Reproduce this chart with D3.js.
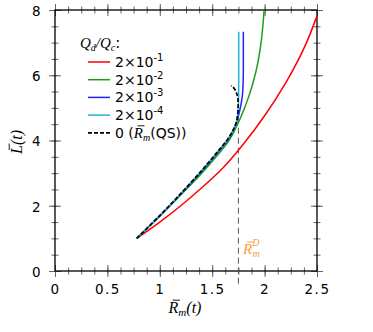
<!DOCTYPE html>
<html>
<head>
<meta charset="utf-8">
<script src="https://cdn.jsdelivr.net/npm/d3@7"></script>
<style>
	body { margin: 0; background: #fff; }
	svg { display: block; }
	.tick text { font-family: "DejaVu Sans", sans-serif; font-size: 13.5px; letter-spacing: 1.5px; fill: #000; }
	.math { font-family: "Liberation Serif", serif; font-style: italic; }
	.num { font-family: "DejaVu Sans", sans-serif; font-style: normal; }
</style>
</head>
<body>
<svg id="chart" width="373" height="332"></svg>
<script>
// axis ticks
const xTicks = [0, 0.5, 1, 1.5, 2, 2.5];
const yTicks = [0, 2, 4, 6, 8];

// legend labels, in drawing order
const seriesExp = ["-1", "-2", "-3", "-4"];
const seriesColors = ["#ff0000", "#1c9c1c", "#2222ff", "#25b5d8"];

// curves: [Rm, L]
const redCurve = [[0.78, 1.0], [1.0, 1.5], [1.2, 2.0], [1.4, 2.55], [1.6, 3.15], [1.8, 3.9], [2.0, 4.76], [2.2, 5.76], [2.4, 7.0], [2.5, 7.82]];
const greenCurve = [[0.78, 1.0], [1.0, 1.68], [1.2, 2.33], [1.4, 3.0], [1.55, 3.55], [1.65, 3.95], [1.7, 4.22], [1.75, 4.55], [1.8, 4.93], [1.85, 5.36], [1.89, 5.78], [1.92, 6.15], [1.95, 6.65], [1.972, 7.15], [1.986, 7.6], [1.995, 8.0]];
const blueCurve = [[0.78, 1.0], [1.0, 1.69], [1.2, 2.36], [1.4, 3.06], [1.55, 3.62], [1.65, 4.02], [1.72, 4.45], [1.765, 4.95], [1.787, 5.35], [1.795, 5.75], [1.797, 6.2], [1.797, 7.33]];
const cyanCurve = [[0.78, 1.0], [1.0, 1.7], [1.2, 2.37], [1.4, 3.08], [1.55, 3.65], [1.65, 4.05], [1.7, 4.32], [1.73, 4.55], [1.745, 4.85], [1.751, 5.2], [1.753, 5.6], [1.753, 7.33]];
const qsCurve = [[0.78, 1.0], [1.0, 1.7], [1.2, 2.37], [1.4, 3.08], [1.55, 3.65], [1.65, 4.05], [1.7, 4.32], [1.73, 4.55], [1.745, 4.85], [1.748, 5.1], [1.744, 5.3], [1.733, 5.45], [1.715, 5.57], [1.695, 5.65], [1.679, 5.68]];

// critical radius marker
const rmD = 1.75;
const rmDLine = [4.7, -0.45];

const svg = d3.select("svg#chart");
const bounds = { minX: 55, maxX: 317, minY: 10, maxY: 271 };

const scaleX = d3.scaleLinear().domain([0, 2.5]).range([bounds.minX, bounds.maxX]);
const scaleY = d3.scaleLinear().domain([0, 8]).range([bounds.maxY, bounds.minY]);

const xMinor = d3.range(0, 2.5001, 0.125);
const yMinor = d3.range(0, 8.001, 0.5);

// ticks go across the frame line, so draw each axis outward and inward
function drawTicks(axisFn, scale, ticks, size, transform, labels) {
	let gOut = svg.append("g").attr("transform", transform)
		.call(axisFn(scale).tickValues(ticks).tickSize(size).tickPadding(7)
			.tickFormat(labels ? d3.format("") : ""));
	gOut.select(".domain").remove();
	gOut.selectAll(".tick line").attr("stroke", "#666");
	let gIn = svg.append("g").attr("transform", transform)
		.call(axisFn(scale).tickValues(ticks).tickSize(-size).tickFormat(""));
	gIn.select(".domain").remove();
	gIn.selectAll(".tick line").attr("stroke", "#666");
	return gOut;
}

drawTicks(d3.axisBottom, scaleX, xMinor, 3.5, `translate(0 ${bounds.maxY})`, false);
drawTicks(d3.axisBottom, scaleX, xTicks, 6, `translate(0 ${bounds.maxY})`, true);
drawTicks(d3.axisTop, scaleX, xMinor, 3.5, `translate(0 ${bounds.minY})`, false);
drawTicks(d3.axisTop, scaleX, xTicks, 6, `translate(0 ${bounds.minY})`, false);
drawTicks(d3.axisLeft, scaleY, yMinor, 3.5, `translate(${bounds.minX} 0)`, false);
drawTicks(d3.axisLeft, scaleY, yTicks, 6, `translate(${bounds.minX} 0)`, true)
	.selectAll(".tick text").attr("dy", "0.4em");
drawTicks(d3.axisRight, scaleY, yMinor, 3.5, `translate(${bounds.maxX} 0)`, false);
drawTicks(d3.axisRight, scaleY, yTicks, 6, `translate(${bounds.maxX} 0)`, false);

// frame
svg.append("rect")
	.attr("x", bounds.minX).attr("y", bounds.minY)
	.attr("width", bounds.maxX - bounds.minX).attr("height", bounds.maxY - bounds.minY)
	.attr("fill", "none").attr("stroke", "#000").attr("stroke-width", 1.3);

// vertical dashed marker
svg.append("line")
	.attr("x1", scaleX(rmD)).attr("x2", scaleX(rmD))
	.attr("y1", scaleY(rmDLine[0])).attr("y2", scaleY(rmDLine[1]))
	.attr("stroke", "#555").attr("stroke-width", 1).attr("stroke-dasharray", "6,4");

const line = d3.line()
	.x(d => scaleX(d[0]))
	.y(d => scaleY(d[1]))
	.curve(d3.curveMonotoneY);

const curves = [redCurve, greenCurve, blueCurve, cyanCurve];
svg.append("g").selectAll("path")
	.data(curves)
	.join("path")
	.attr("d", line)
	.attr("fill", "none")
	.attr("stroke", (_, i) => seriesColors[i])
	.attr("stroke-width", 1.5);

svg.append("path")
	.attr("d", line.curve(d3.curveCatmullRom.alpha(0.5))(qsCurve))
	.attr("fill", "none")
	.attr("stroke", "#000")
	.attr("stroke-width", 1.7)
	.attr("stroke-dasharray", "4,2");

/*
 * puts a short bar over character i of a text node (for R-bar, L-bar)
 */
function addBar(parent, textSel, i, fs, color) {
	let node = textSel.node();
	let s = node.getStartPositionOfChar(i);
	let e = node.getEndPositionOfChar(i);
	parent.append("line")
		.attr("x1", s.x + 0.25 * fs).attr("x2", e.x + 0.1 * fs)
		.attr("y1", s.y - 0.8 * fs).attr("y2", s.y - 0.8 * fs)
		.attr("stroke", color).attr("stroke-width", 0.9);
}

// legend
const legend = svg.append("g");
let title = legend.append("text").attr("x", 80).attr("y", 48).attr("class", "math").attr("font-size", 15);
title.append("tspan").text("Q");
title.append("tspan").attr("font-size", 10).attr("dy", 3).text("d");
title.append("tspan").attr("dy", -3).text("/Q");
title.append("tspan").attr("font-size", 10).attr("dy", 3).text("c");
title.append("tspan").attr("dy", -3).attr("class", "num").text(":");

const rowY = [62, 79.7, 97.4, 115.1, 132.8];
seriesExp.forEach((exp, i) => {
	legend.append("line")
		.attr("x1", 88).attr("x2", 110)
		.attr("y1", rowY[i]).attr("y2", rowY[i])
		.attr("stroke", seriesColors[i]).attr("stroke-width", 1.5);
	let t = legend.append("text").attr("x", 115).attr("y", rowY[i] + 5)
		.attr("font-family", "DejaVu Sans, sans-serif").attr("font-size", 14);
	t.append("tspan").text("2×10");
	t.append("tspan").attr("font-size", 10).attr("dy", -6).text(exp);
});
legend.append("line")
	.attr("x1", 88).attr("x2", 110)
	.attr("y1", rowY[4]).attr("y2", rowY[4])
	.attr("stroke", "#000").attr("stroke-width", 1.7).attr("stroke-dasharray", "4,2");
let qs = legend.append("text").attr("x", 115).attr("y", rowY[4] + 5).attr("font-size", 14);
qs.append("tspan").attr("class", "num").text("0 (");
qs.append("tspan").attr("class", "math").attr("font-size", 15).text("R");
qs.append("tspan").attr("class", "math").attr("font-size", 10).attr("dy", 3).text("m");
qs.append("tspan").attr("class", "num").attr("dy", -3).text("(QS))");
addBar(legend, qs, 3, 15, "#000");

// R_m^D label
const orange = "#f5a040";
let rd = svg.append("text").attr("x", 243).attr("y", 254).attr("class", "math")
	.attr("font-size", 15).attr("fill", orange);
rd.append("tspan").text("R");
rd.append("tspan").attr("font-size", 10).attr("dy", -8).text("D");
rd.append("tspan").attr("font-size", 10).attr("dx", -7).attr("dy", 11).text("m");
addBar(svg, rd, 0, 15, orange);

// axis titles
let xl = svg.append("text").attr("x", 185).attr("y", 313).attr("text-anchor", "middle")
	.attr("class", "math").attr("font-size", 16);
xl.append("tspan").text("R");
xl.append("tspan").attr("font-size", 11).attr("dy", 3).text("m");
xl.append("tspan").attr("dy", -3).text("(t)");
addBar(svg, xl, 0, 16, "#000");

let yg = svg.append("g").attr("transform", "translate(22 142) rotate(-90)");
let yl = yg.append("text")
	.attr("text-anchor", "middle")
	.attr("class", "math").attr("font-size", 16)
	.text("L(t)");
addBar(yg, yl, 0, 16, "#000");
</script>
</body>
</html>
